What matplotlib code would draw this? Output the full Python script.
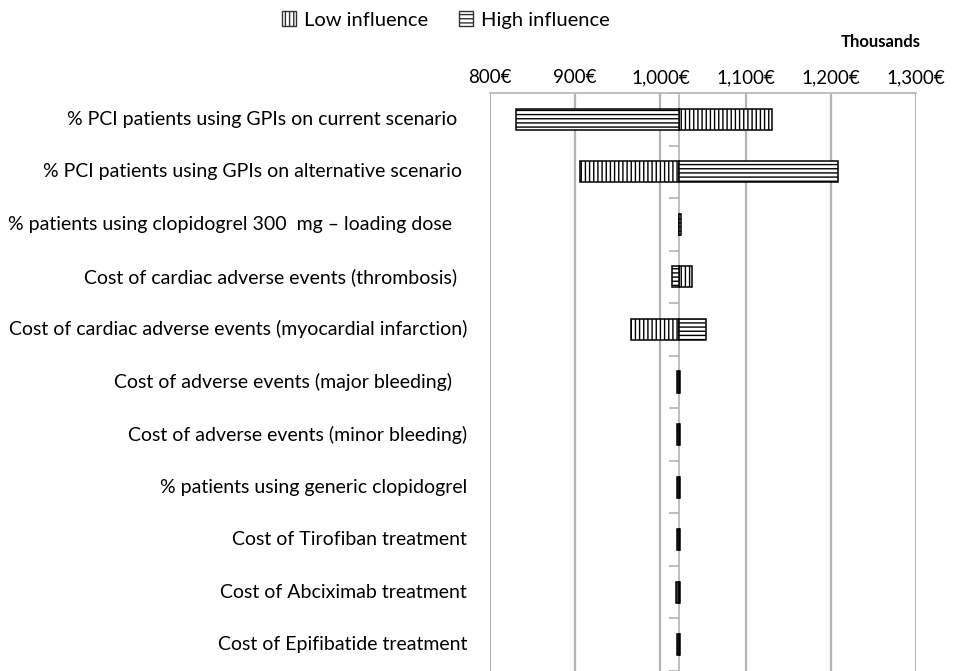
import numpy as np
import matplotlib
matplotlib.use("Agg")
import matplotlib.pyplot as plt
from matplotlib.patches import Patch

plt.rcParams["font.family"] = ["Lato", "DejaVu Sans"]
plt.rcParams["hatch.linewidth"] = 1.0

# tornado data (thousand €), top row first
labels = [
    "% PCI patients using GPIs on current scenario  ",
    "% PCI patients using GPIs on alternative scenario ",
    "% patients using clopidogrel 300  mg \u2013 loading dose   ",
    "Cost of cardiac adverse events (thrombosis)  ",
    "Cost of cardiac adverse events (myocardial infarction)",
    "Cost of adverse events (major bleeding)   ",
    "Cost of adverse events (minor bleeding)",
    "% patients using generic clopidogrel",
    "Cost of Tirofiban treatment",
    "Cost of Abciximab treatment",
    "Cost of Epifibatide treatment",
]
base_value = 1022
low_values = [1131, 906, 1022.5, 1037, 965, 1020, 1020, 1020, 1020, 1018, 1020]
high_values = [830, 1208, 1024, 1014, 1053, 1023.5, 1023.5, 1023.5, 1023.5, 1023.5, 1023.5]
xticks = [800, 900, 1000, 1100, 1200, 1300]
xtick_labels = ["800\u20ac", "900\u20ac", "1,000\u20ac", "1,100\u20ac", "1,200\u20ac", "1,300\u20ac"]

grid_col = "#b4b4b4"
n = len(labels)
y = np.arange(n)

fig = plt.figure(figsize=(9.55, 6.71), dpi=100)
ax = fig.add_axes([490 / 955, 0.0, 426 / 955, 578 / 671])

low = np.array(low_values) - base_value
high = np.array(high_values) - base_value
ax.barh(y, low, left=base_value, height=0.4, color="white", edgecolor="black",
        hatch="||||", linewidth=1.1, zorder=3)
ax.barh(y, high, left=base_value, height=0.4, color="white", edgecolor="black",
        hatch="----", linewidth=1.1, zorder=3)

ax.set_xlim(800, 1300)
ax.set_ylim(n - 0.5, -0.5)
ax.xaxis.tick_top()
ax.set_xticks(xticks)
ax.set_xticklabels(xtick_labels, fontsize=13.5)
ax.tick_params(axis="x", length=0, pad=5)
ax.grid(axis="x", color=grid_col, linewidth=1.6, zorder=0)

# category axis drawn at the base value
ax.spines["left"].set_position(("data", base_value))
ax.spines["left"].set_color(grid_col)
ax.spines["left"].set_linewidth(1.2)
ax.spines["top"].set_color(grid_col)
ax.spines["top"].set_linewidth(1.2)
ax.spines["right"].set_visible(False)
ax.spines["bottom"].set_visible(False)
ax.set_yticks(np.arange(n + 1) - 0.5)
ax.set_yticklabels([])
ax.tick_params(axis="y", length=7, width=1.2, color=grid_col, direction="out")

for yi, lab in zip(y, labels):
    ax.text(-0.054, yi, lab, transform=ax.get_yaxis_transform(), ha="right",
            va="center", fontsize=14)

fig.text(881 / 955, 1 - 42 / 671, "Thousands", fontsize=12, fontweight="bold",
         ha="center", va="center")

handles = [
    Patch(facecolor="white", edgecolor="#333333", hatch="||||", label="Low influence"),
    Patch(facecolor="white", edgecolor="#333333", hatch="----", label="High influence"),
]
fig.legend(handles=handles, loc="center", bbox_to_anchor=(446 / 955, 1 - 20 / 671),
           ncol=2, frameon=False, fontsize=14.5, handlelength=0.7, handleheight=0.7,
           handletextpad=0.4, columnspacing=1.5)

fig.savefig("out.png", dpi=100)
